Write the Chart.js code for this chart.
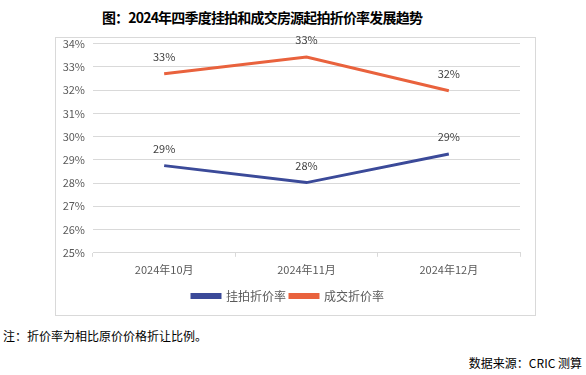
<!DOCTYPE html>
<html>
<head>
<meta charset="utf-8">
<script src="https://cdn.jsdelivr.net/npm/chart.js@4"></script>
<style>
  body { margin: 0; background: #fff; width: 586px; height: 375px; position: relative; overflow: hidden;
         font-family: "Noto Sans CJK SC", "Noto Sans", sans-serif; }
  #title { position: absolute; left: 0; width: 524px; top: 7px; text-align: center;
           font-size: 14px; font-weight: 700; letter-spacing: -0.8px; color: #000; line-height: 20px; }
  #box { position: absolute; left: 55px; top: 37px; width: 479px; height: 277px; border: 1px solid #d9d9d9; }
  #trendChart { position: absolute; left: 0; top: -9px; }
  #note { position: absolute; left: 3px; top: 328px; font-size: 12px; line-height: 16px; color: #000; }
  #source { position: absolute; right: 4px; top: 355px; font-size: 12px; line-height: 16px; color: #000; }
</style>
</head>
<body>
<div id="title">图：2024年四季度挂拍和成交房源起拍折价率发展趋势</div>
<div id="box"><canvas id="trendChart" width="479" height="286"></canvas></div>
<div id="note">注：折价率为相比原价价格折让比例。</div>
<div id="source">数据来源：CRIC 测算</div>
<script>
const months = ["2024年10月", "2024年11月", "2024年12月"];
const listingRate = [28.75, 28.02, 29.25];
const dealRate = [32.7, 33.42, 31.97];
const yTicks = [25, 26, 27, 28, 29, 30, 31, 32, 33, 34];

Chart.defaults.font.family = "'Noto Sans CJK SC', 'Noto Sans', sans-serif";

// simple value labels above the points
const pointLabels = {
  id: "pointLabels",
  afterDatasetsDraw(chart) {
    const ctx = chart.ctx;
    ctx.save();
    ctx.font = "11px 'Noto Sans CJK SC', sans-serif";
    ctx.fillStyle = "#404040";
    ctx.textAlign = "center";
    ctx.textBaseline = "middle";
    chart.data.datasets.forEach((ds, i) => {
      chart.getDatasetMeta(i).data.forEach((pt, j) => {
        ctx.fillText(Math.round(ds.data[j]) + "%", pt.x, pt.y - 17);
      });
    });
    ctx.restore();
  }
};

const ctx = document.getElementById("trendChart").getContext("2d");
new Chart(ctx, {
  type: "line",
  data: {
    labels: months,
    datasets: [
      {
        label: "挂拍折价率",
        data: listingRate,
        borderColor: "#3b4a99",
        backgroundColor: "#3b4a99",
        borderWidth: 3,
        pointRadius: 0,
        tension: 0
      },
      {
        label: "成交折价率",
        data: dealRate,
        borderColor: "#e9623d",
        backgroundColor: "#e9623d",
        borderWidth: 3,
        pointRadius: 0,
        tension: 0
      }
    ]
  },
  options: {
    responsive: false,
    animation: false,
    layout: { padding: { top: 0, right: 15, left: 0, bottom: 3 } },
    plugins: {
      tooltip: { enabled: false },
      legend: {
        position: "bottom",
        labels: {
          boxWidth: 28,
          boxHeight: 3,
          padding: 4,
          color: "#595959",
          font: { size: 12 }
        }
      }
    },
    scales: {
      x: {
        offset: true,
        afterFit(scale) {
          scale.height += 4;
        },
        grid: { offset: true, drawOnChartArea: false, drawTicks: true, tickLength: 4, color: "#d9d9d9" },
        border: { color: "#d9d9d9" },
        ticks: { color: "#595959", font: { size: 11 }, padding: 6, maxRotation: 0 }
      },
      y: {
        min: 25,
        max: 34,
        afterBuildTicks(scale) {
          scale.ticks = yTicks.map(v => ({ value: v }));
        },
        afterFit(scale) {
          scale.width = 37;
        },
        grid: { color: "#d9d9d9", drawTicks: false },
        border: { display: false },
        ticks: {
          color: "#595959",
          font: { size: 11 },
          padding: 8,
          callback: v => v + "%"
        }
      }
    }
  },
  plugins: [pointLabels]
});
</script>
</body>
</html>
